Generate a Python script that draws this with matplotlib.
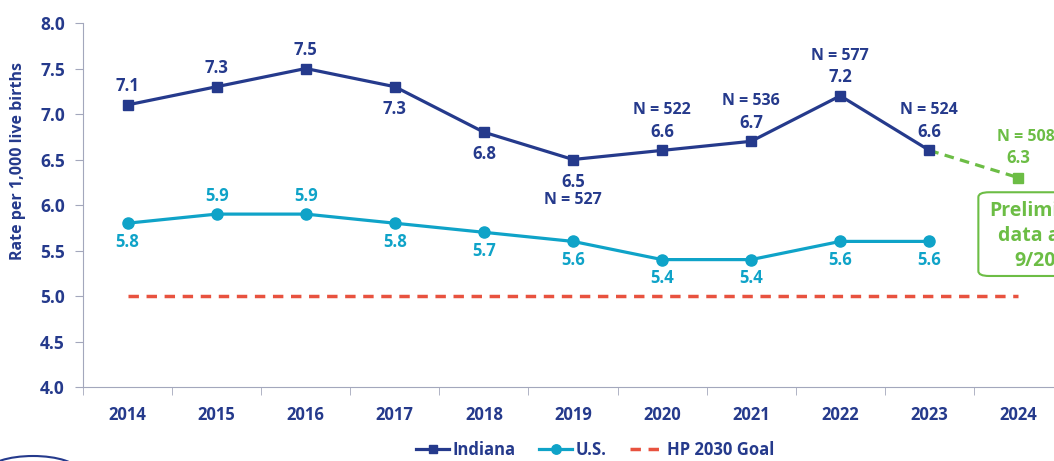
import matplotlib.pyplot as plt
from matplotlib.patches import FancyBboxPatch, Arc

years = ['2014', '2015', '2016', '2017', '2018', '2019', '2020', '2021', '2022', '2023', '2024']
indiana = [7.1, 7.3, 7.5, 7.3, 6.8, 6.5, 6.6, 6.7, 7.2, 6.6]
us = [5.8, 5.9, 5.9, 5.8, 5.7, 5.6, 5.4, 5.4, 5.6, 5.6]
goal = [5.0] * 11
prelim = [6.6, 6.3]  # 2023 -> 2024 preliminary
ind_below = [False, False, False, True, True, True, False, False, False, False]
us_below = [True, False, False, True, True, True, True, True, True, True]
n_counts = {5: 'N = 527', 6: 'N = 522', 7: 'N = 536', 8: 'N = 577', 9: 'N = 524'}
n_prelim = 'N = 508'

NAVY = '#253A8C'
TEAL = '#0FA3C8'
RED = '#E8523F'
GREEN = '#6CBD45'
AXC = '#A3A7BC'

plt.rcParams['font.family'] = ['Open Sans', 'DejaVu Sans']
plt.rcParams['font.weight'] = 'bold'

fig = plt.figure(figsize=(10.54, 4.61), dpi=100)
ax = fig.add_axes([83 / 1054, 1 - 387 / 461, 980 / 1054, 364 / 461])

x = list(range(len(years)))
ax.plot(x, goal, color=RED, lw=2.5, dashes=(3, 2.2), label='HP 2030 Goal', zorder=2)
ax.plot(x[:10], us, color=TEAL, lw=2.3, marker='o', ms=8, label='U.S.', zorder=3)
ax.plot(x[:10], indiana, color=NAVY, lw=2.3, marker='s', ms=6.5, label='Indiana', zorder=4)
ax.plot(x[9:11], prelim, color=GREEN, lw=2.3, dashes=(3, 2), zorder=3)
ax.plot([x[10]], [prelim[1]], color=GREEN, marker='s', ms=6.5, ls='none', zorder=4)

for i, v in enumerate(indiana):
    dy = -16 if ind_below[i] else 13.5
    ax.annotate(f'{v:.1f}', (i, v), xytext=(0, dy), textcoords='offset points',
                ha='center', va='center', color=NAVY, fontsize=12, fontweight='bold')
    if i in n_counts:
        ndy = -29 if ind_below[i] else 29
        ax.annotate(n_counts[i], (i, v), xytext=(0, ndy), textcoords='offset points',
                    ha='center', va='center', color=NAVY, fontsize=11.5, fontweight='bold')

ax.annotate(f'{prelim[1]:.1f}', (10, prelim[1]), xytext=(0, 14), textcoords='offset points',
            ha='center', va='center', color=GREEN, fontsize=12, fontweight='bold')
ax.annotate(n_prelim, (10, prelim[1]), xytext=(5.5, 29), textcoords='offset points',
            ha='center', va='center', color=GREEN, fontsize=11.5, fontweight='bold')

for i, v in enumerate(us):
    dy = -13.5 if us_below[i] else 13
    ax.annotate(f'{v:.1f}', (i, v), xytext=(0, dy), textcoords='offset points',
                ha='center', va='center', color=TEAL, fontsize=12, fontweight='bold')

# preliminary data box (runs off the right edge)
box = FancyBboxPatch((9.55, 5.22), 1.6, 0.92, boxstyle='round,pad=0,rounding_size=0.12',
                     mutation_aspect=0.45, fc='white', ec=GREEN, lw=1.5, zorder=5,
                     clip_on=False)
ax.add_patch(box)
ax.text(10.31, 5.66, 'Preliminary\ndata as of\n9/2025', ha='center', va='center',
        color=GREEN, fontsize=14, fontweight='bold', linespacing=1.35, zorder=6)

ax.set_xlim(-0.5, 10.5)
ax.set_ylim(4.0, 8.0)
ax.set_yticks([4.0, 4.5, 5.0, 5.5, 6.0, 6.5, 7.0, 7.5, 8.0])
ax.set_yticklabels([f'{t:.1f}' for t in ax.get_yticks()])
ax.set_xticks(x)
ax.set_xticklabels(years)
ax.set_xticks([i + 0.5 for i in range(-1, 11)], minor=True)
ax.tick_params(axis='x', which='major', length=0, pad=14, labelsize=12, labelcolor=NAVY)
ax.tick_params(axis='x', which='minor', length=6, color=AXC)
ax.tick_params(axis='y', length=6, color=AXC, labelsize=12.5, labelcolor=NAVY, pad=7)
for s in ['top', 'right']:
    ax.spines[s].set_visible(False)
for s in ['left', 'bottom']:
    ax.spines[s].set_color(AXC)
ax.set_ylabel('Rate per 1,000 live births', color=NAVY, fontsize=11.5, fontweight='bold')
ax.yaxis.set_label_coords(-57 / 980, 0.62)

h, l = ax.get_legend_handles_labels()
leg = fig.legend([h[2], h[1], h[0]], [l[2], l[1], l[0]], loc='center', ncol=3,
                 bbox_to_anchor=(595 / 1054, 1 - 450 / 461), frameon=False, fontsize=12,
                 handlelength=2.0, handletextpad=0.2, columnspacing=1.4, markerscale=0.85)
for t in leg.get_texts():
    t.set_color(NAVY)
    t.set_fontweight('bold')

arc = Arc((33 / 1054, -10 / 461), 90 / 1054, 30 / 461, theta1=0, theta2=180,
          color=NAVY, lw=1.5, transform=fig.transFigure)
fig.add_artist(arc)

fig.savefig('out.png', dpi=100)
